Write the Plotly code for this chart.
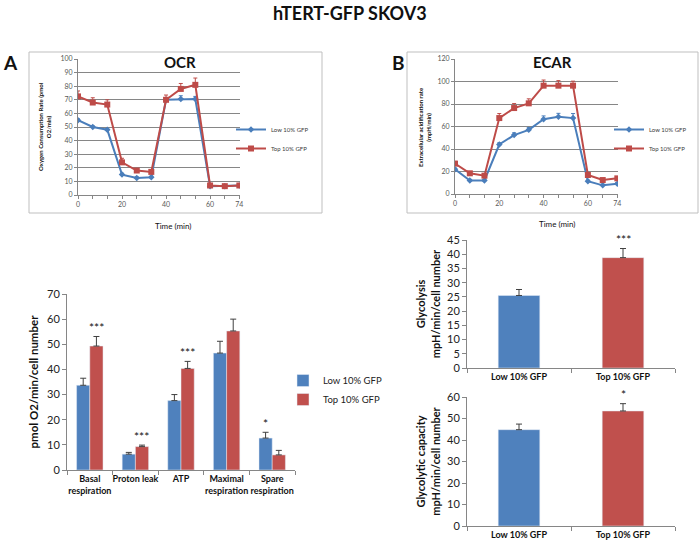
import plotly.graph_objects as go

# ---- data ----
time_min = [0, 6.7, 13.3, 20, 26.7, 33.3, 40, 46.7, 53.3, 60, 66.7, 73.3]
time_labels = ["0", "", "", "20", "", "", "40", "", "", "60", "", "74"]

ocr_low = [55, 50, 48, 15, 12.5, 13, 70, 70.5, 70.5, 6.5, 6.5, 7]
ocr_low_err = [1, 0.8, 0.8, 1, 0.8, 0.8, 1, 2.5, 2, 1.5, 0.5, 0.5]
ocr_top = [72.5, 68, 66.5, 24, 18, 17, 70, 78, 81, 7, 6.5, 7]
ocr_top_err = [4, 3.5, 3.5, 3, 1, 1, 3.5, 4, 5, 1, 0.5, 0.5]

ecar_low = [22, 12, 12, 44, 52.4, 57, 66.4, 68.7, 67.5, 11.3, 7.7, 9.2]
ecar_low_err = [1, 1, 1, 1.5, 2, 2, 3, 3, 4, 1, 1, 1]
ecar_top = [27, 18.4, 16.3, 67.5, 76.4, 80.6, 96.3, 96.3, 96.3, 16.9, 12.4, 13.9]
ecar_top_err = [2, 1, 1, 4, 4, 4, 5, 4.5, 4, 1, 1, 1]

resp_cats = ["Basal<br>respiration", "Proton leak", "ATP", "Maximal<br>respiration", "Spare<br>respiration"]
resp_low = [33.7, 6.3, 27.6, 46.5, 12.7]
resp_low_err = [2.8, 0.7, 2.4, 4.7, 2.3]
resp_top = [49.3, 9.3, 40.4, 55.3, 6.0]
resp_top_err = [3.8, 0.6, 2.8, 4.7, 1.8]
resp_sig_low = ["", "", "", "", "*"]
resp_sig_top = ["***", "***", "***", "", ""]

groups = ["Low 10% GFP", "Top 10% GFP"]
glycolysis = [25.5, 38.8]
glycolysis_err = [2.1, 3.2]
glycolysis_sig = ["", "***"]
glyco_capacity = [44.8, 53.5]
glyco_capacity_err = [2.6, 3.4]
glyco_capacity_sig = ["", "*"]

BLUE = "#4F81BD"
RED = "#C0504D"
LBLUE = "#4A7EBB"
LRED = "#BE4B48"
FONT = "Lato"
W, H = 700, 545


def px(x):
    return x / W


def py(y):
    return 1 - y / H


fig = go.Figure()

# ---- line charts (OCR, ECAR) ----
line_sets = [
    ("x", "y", "legend", ocr_low, ocr_low_err, ocr_top, ocr_top_err),
    ("x2", "y2", "legend2", ecar_low, ecar_low_err, ecar_top, ecar_top_err),
]
for xa, ya, lg, lo, lo_e, tp, tp_e in line_sets:
    fig.add_trace(go.Scatter(
        x=time_min, y=lo, xaxis=xa, yaxis=ya, legend=lg, name="Low 10% GFP",
        mode="lines+markers", line=dict(color=LBLUE, width=2),
        marker=dict(symbol="diamond", size=5, color=LBLUE),
        error_y=dict(type="data", symmetric=False, array=lo_e, arrayminus=[0] * len(lo),
                     color=LBLUE, thickness=1, width=2)))
    fig.add_trace(go.Scatter(
        x=time_min, y=tp, xaxis=xa, yaxis=ya, legend=lg, name="Top 10% GFP",
        mode="lines+markers", line=dict(color=LRED, width=2),
        marker=dict(symbol="square", size=6, color=LRED),
        error_y=dict(type="data", symmetric=False, array=tp_e, arrayminus=[0] * len(tp),
                     color=LRED, thickness=1, width=2)))

# ---- respiration bar chart ----
fig.add_trace(go.Bar(
    x=resp_cats, y=resp_low, xaxis="x3", yaxis="y3", legend="legend3", name="Low 10% GFP",
    marker=dict(color=BLUE), offsetgroup="a",
    error_y=dict(type="data", symmetric=False, array=resp_low_err, arrayminus=[0] * 5,
                 color="#404040", thickness=1, width=3)))
fig.add_trace(go.Bar(
    x=resp_cats, y=resp_top, xaxis="x3", yaxis="y3", legend="legend3", name="Top 10% GFP",
    marker=dict(color=RED), offsetgroup="b",
    error_y=dict(type="data", symmetric=False, array=resp_top_err, arrayminus=[0] * 5,
                 color="#404040", thickness=1, width=3)))

# ---- glycolysis bar charts ----
for xa, ya, vals, errs in [("x4", "y4", glycolysis, glycolysis_err),
                           ("x5", "y5", glyco_capacity, glyco_capacity_err)]:
    fig.add_trace(go.Bar(
        x=groups, y=vals, xaxis=xa, yaxis=ya, showlegend=False, width=0.4,
        marker=dict(color=[BLUE, RED]),
        error_y=dict(type="data", symmetric=False, array=errs, arrayminus=[0, 0],
                     color="#404040", thickness=1, width=3)))

# ---- axes ----
small_tick = dict(size=7, color="#595959", family=FONT)
line_x = dict(tickvals=time_min, ticktext=time_labels, ticks="outside", ticklen=3,
              tickcolor="#868686", showline=True, linecolor="#868686", showgrid=False,
              tickfont=small_tick, zeroline=False, range=[0, 73.6])
line_y = dict(ticks="outside", ticklen=3, tickcolor="#868686", showline=True,
              linecolor="#868686", showgrid=True, gridcolor="#868686", gridwidth=1,
              tickfont=small_tick, zeroline=False)

bar_y = dict(ticks="outside", ticklen=4, tickcolor="#868686", showline=True,
             linecolor="#868686", showgrid=False, zeroline=False,
             tickfont=dict(size=11, color="#222", family=FONT))
bar_x = dict(ticks="outside", ticklen=4, tickcolor="#868686", showline=True,
             linecolor="#868686", tickson="boundaries", tickangle=0,
             tickfont=dict(size=9, color="#111", family=FONT, weight="bold"))

fig.update_layout(
    xaxis=dict(domain=[px(78), px(240)], anchor="y", **line_x),
    yaxis=dict(domain=[py(195), py(59)], anchor="x", range=[0, 100], dtick=10, **line_y),
    xaxis2=dict(domain=[px(455), px(618)], anchor="y2", **line_x),
    yaxis2=dict(domain=[py(194), py(59)], anchor="x2", range=[0, 120], dtick=20, **line_y),
    xaxis3=dict(domain=[px(67), px(295)], anchor="y3", **bar_x),
    yaxis3=dict(domain=[py(470), py(294)], anchor="x3", range=[0, 70], dtick=10,
                title=dict(text="<b>pmol O2/min/cell number</b>", standoff=6,
                           font=dict(size=11.5, family=FONT, color="#111")), **bar_y),
    xaxis4=dict(domain=[px(467), px(675)], anchor="y4", **bar_x),
    yaxis4=dict(domain=[py(368), py(240)], anchor="x4", range=[0, 45], dtick=5,
                title=dict(text="<b>Glycolysis<br>mpH/min/cell number</b>", standoff=4,
                           font=dict(size=11, family=FONT, color="#111")), **bar_y),
    xaxis5=dict(domain=[px(467), px(675)], anchor="y5", **bar_x),
    yaxis5=dict(domain=[py(526), py(397)], anchor="x5", range=[0, 60], dtick=10,
                title=dict(text="<b>Glycolytic capacity<br>mpH/min/cell number</b>", standoff=4,
                           font=dict(size=11, family=FONT, color="#111")), **bar_y),
    barmode="group", bargap=0.42, bargroupgap=0,
    width=W, height=H, margin=dict(l=0, r=0, t=0, b=0, autoexpand=False),
    paper_bgcolor="white", plot_bgcolor="white",
    font=dict(family=FONT),
    legend=dict(x=px(231), y=py(115), xanchor="left", yanchor="top",
                font=dict(size=6, color="#404040"), tracegroupgap=0,
                bgcolor="rgba(0,0,0,0)"),
    legend2=dict(x=px(609), y=py(115), xanchor="left", yanchor="top",
                 font=dict(size=6, color="#404040"), tracegroupgap=0,
                 bgcolor="rgba(0,0,0,0)"),
    legend3=dict(x=px(283), y=py(366), xanchor="left", yanchor="top",
                 font=dict(size=9.5, color="#222"),
                 bgcolor="rgba(0,0,0,0)"),
)

# ---- frames around line charts ----
for x0, x1 in [(29, 322), (407, 698)]:
    fig.add_shape(type="rect", xref="paper", yref="paper",
                  x0=px(x0), x1=px(x1), y0=py(213), y1=py(52),
                  line=dict(color="#BFBFBF", width=1))

# ---- text annotations ----
ann = [
    ("<b>hTERT-GFP SKOV3</b>", 350, 13, 18, 0),
    ("<b>A</b>", 10, 62, 19, 0),
    ("<b>OCR</b>", 180, 62, 15, 0),
    ("<b>B</b>", 398, 62, 19, 0),
    ("<b>ECAR</b>", 552, 62, 15, 0),
    ("Time (min)", 173, 226, 8, 0),
    ("Time (min)", 557, 224, 8, 0),
    ("<b>Oxygen Consumption Rate (pmol<br>O2/min)</b>", 44, 127, 6, -90),
    ("<b>Extracellular acidification rate<br>(mpH/min)</b>", 424, 127, 6, -90),
]
for text, x, y, size, ang in ann:
    fig.add_annotation(text=text, x=px(x), y=py(y), xref="paper", yref="paper",
                       xanchor="center", yanchor="middle",
                       showarrow=False, textangle=ang,
                       font=dict(size=size, family=FONT, color="#111"))

# significance stars
for cat, v, e, s in zip(resp_cats, resp_low, resp_low_err, resp_sig_low):
    if s:
        fig.add_annotation(x=cat, y=v + e, xref="x3", yref="y3", text=s, showarrow=False,
                           xshift=-6.5, yshift=9, font=dict(size=12, family=FONT, color="#111"))
for cat, v, e, s in zip(resp_cats, resp_top, resp_top_err, resp_sig_top):
    if s:
        fig.add_annotation(x=cat, y=v + e, xref="x3", yref="y3", text=s, showarrow=False,
                           xshift=6.5, yshift=9, font=dict(size=12, family=FONT, color="#111"))
for xa, ya, vals, errs, sig in [("x4", "y4", glycolysis, glycolysis_err, glycolysis_sig),
                                ("x5", "y5", glyco_capacity, glyco_capacity_err, glyco_capacity_sig)]:
    for g, v, e, s in zip(groups, vals, errs, sig):
        if s:
            fig.add_annotation(x=g, y=v + e, xref=xa, yref=ya, text=s, showarrow=False,
                               yshift=9, font=dict(size=12, family=FONT, color="#111"))

# drop the browser's default 8px page margin so the figure sits at the window corner
fig.write_html("out.html", config={"displayModeBar": False},
               post_script="document.body.style.margin='0';")
